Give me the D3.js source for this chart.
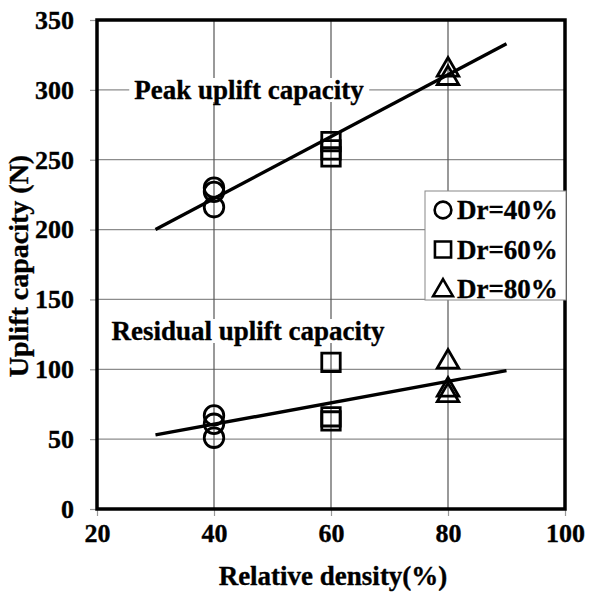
<!DOCTYPE html>
<html>
<head>
<meta charset="utf-8">
<script src="https://cdn.jsdelivr.net/npm/d3@7"></script>
<style>
  html, body { margin: 0; padding: 0; background: #fff; }
  svg { display: block; }
  text { font-family: "Liberation Serif", "Times New Roman", serif; font-weight: bold; fill: #000; stroke: #000; stroke-width: 0.35px; }
</style>
</head>
<body>
<svg id="chart" width="604" height="595"></svg>
<script>
// Relative density (%) of each test group
const densities = [40, 60, 80];
const seriesNames = ["Dr=40%", "Dr=60%", "Dr=80%"];
const markerShapes = ["circle", "square", "triangle"];

// Peak uplift capacity (N) per test, grouped by density
const peak40 = [230, 227, 216];
const peak60 = [263, 257, 252];
const peak80 = [315, 309];

// Residual uplift capacity (N) per test, grouped by density
const residual40 = [67, 61, 51];
const residual60 = [105, 66, 63];
const residual80 = [106, 86, 82];

// Linear trend lines: [density, capacity] end points
const peakTrend = [[30, 200], [90, 333]];
const residualTrend = [[30, 53], [90, 99]];

const xTicks = [20, 40, 60, 80, 100];
const yTicks = [0, 50, 100, 150, 200, 250, 300, 350];

const svg = d3.select("#chart");
const plotL = 97, plotR = 565, plotT = 20, plotB = 509;

const x = d3.scaleLinear().domain([20, 100]).range([plotL, plotR]);
const y = d3.scaleLinear().domain([0, 350]).range([plotB, plotT]);

// Gridlines
svg.append("g").selectAll("line").data(yTicks.slice(1, -1)).join("line")
  .attr("x1", plotL).attr("x2", plotR)
  .attr("y1", d => y(d)).attr("y2", d => y(d))
  .attr("stroke", "#8c8c8c").attr("stroke-width", 1.2);
svg.append("g").selectAll("line").data(xTicks.slice(1, -1)).join("line")
  .attr("x1", d => x(d)).attr("x2", d => x(d))
  .attr("y1", plotT).attr("y2", plotB)
  .attr("stroke", "#555").attr("stroke-width", 1.2);

// Axes
const yAxis = svg.append("g").attr("transform", `translate(${plotL},0)`)
  .call(d3.axisLeft(y).tickValues(yTicks).tickSize(7).tickPadding(16));
const xAxis = svg.append("g").attr("transform", `translate(0,${plotB})`)
  .call(d3.axisBottom(x).tickValues(xTicks).tickSize(7).tickPadding(8));
[yAxis, xAxis].forEach(a => {
  a.select(".domain").remove();
  a.selectAll(".tick line").attr("stroke", "#999").attr("stroke-width", 1.2);
  a.selectAll(".tick text").attr("font-size", 26).attr("font-family", "Liberation Serif")
    .attr("font-weight", "bold").attr("fill", "#000").attr("stroke", "#000").attr("stroke-width", 0.35);
});

// Plot frame
svg.append("rect")
  .attr("x", plotL).attr("y", plotT)
  .attr("width", plotR - plotL).attr("height", plotB - plotT)
  .attr("fill", "none").attr("stroke", "#000").attr("stroke-width", 3.5);

// Trend lines
const line = d3.line().x(d => x(d[0])).y(d => y(d[1]));
[peakTrend, residualTrend].forEach(t => {
  svg.append("path").attr("d", line(t))
    .attr("fill", "none").attr("stroke", "#000").attr("stroke-width", 3.4);
});

// Annotation labels with white backing
function label(text, cx, cy) {
  const t = svg.append("text").attr("x", cx).attr("y", cy)
    .attr("text-anchor", "middle").attr("dominant-baseline", "central")
    .attr("font-size", 27).text(text);
  const b = t.node().getBBox();
  svg.insert("rect", () => t.node())
    .attr("x", b.x - 5).attr("y", b.y + 3).attr("width", b.width + 10).attr("height", b.height - 6)
    .attr("fill", "#fff").attr("stroke", "none");
}
label("Peak uplift capacity", 249, 90);
label("Residual uplift capacity", 248, 331);

// Markers
const symbolType = { circle: d3.symbolCircle, square: d3.symbolSquare, triangle: d3.symbolTriangle };
const symbolSize = { circle: 300, square: 340, triangle: 200 };
function marker(g, shape, cx, cy) {
  const dy = shape === "triangle" ? 1 : 0;
  g.append("path")
    .attr("d", d3.symbol().type(symbolType[shape]).size(symbolSize[shape])())
    .attr("transform", `translate(${cx},${cy + dy})`)
    .attr("fill", "none")
    .attr("stroke", "#000").attr("stroke-width", 2.8);
}
const groups = [
  [peak40, residual40],
  [peak60, residual60],
  [peak80, residual80]
];
groups.forEach((g, i) => {
  const gg = svg.append("g");
  g.forEach(vals => vals.forEach(v => marker(gg, markerShapes[i], x(densities[i]), y(v))));
});

// Legend
const lg = svg.append("g");
lg.append("rect").attr("x", 425).attr("y", 191).attr("width", 141).attr("height", 109)
  .attr("fill", "#fff").attr("stroke", "#888").attr("stroke-width", 1);
seriesNames.forEach((n, i) => {
  const cy = 210 + i * 39.5;
  const sz = { circle: 220, square: 260, triangle: 170 }[markerShapes[i]];
  lg.append("path")
    .attr("d", d3.symbol().type(symbolType[markerShapes[i]]).size(sz)())
    .attr("transform", `translate(${443},${cy + (markerShapes[i] === "triangle" ? 1.5 : 0)})`)
    .attr("fill", "none").attr("stroke", "#000").attr("stroke-width", 2.6);
  lg.append("text").attr("x", 457).attr("y", cy).attr("dominant-baseline", "central")
    .attr("font-size", 27).text(n);
});

// Axis titles
svg.append("text").attr("x", 333).attr("y", 585).attr("text-anchor", "middle")
  .attr("font-size", 27).text("Relative density(%)");
svg.append("text").attr("transform", "translate(18,266) rotate(-90)")
  .attr("text-anchor", "middle").attr("dominant-baseline", "central")
  .attr("font-size", 28).text("Uplift capacity (N)");
</script>
</body>
</html>
